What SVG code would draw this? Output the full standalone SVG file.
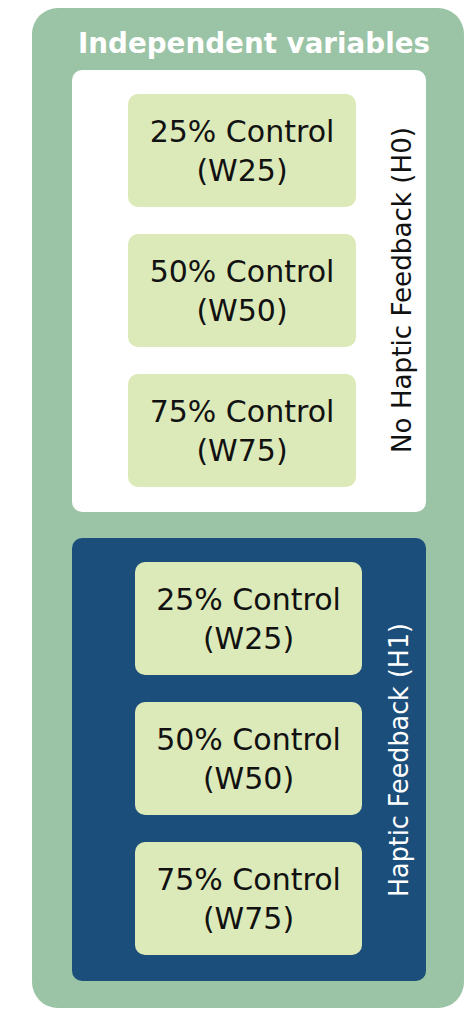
<svg xmlns="http://www.w3.org/2000/svg" width="464" height="1009" viewBox="0 0 464 1009">
  <style>
    .outer { fill: #9ac4a5; }
    .panel-h0 { fill: #ffffff; }
    .panel-h1 { fill: #1b4e7b; }
    .cond { fill: #dce9b8; }
    .title { font-family: "DejaVu Sans", "Liberation Sans", sans-serif; font-weight: bold; font-size: 28px; fill: #ffffff; }
    .label { font-family: "DejaVu Sans", "Liberation Sans", sans-serif; font-size: 30px; fill: #111111; text-anchor: middle; }
    .side { font-family: "DejaVu Sans", "Liberation Sans", sans-serif; font-size: 26px; text-anchor: middle; }
  </style>

  <rect width="464" height="1009" fill="#ffffff"/>

  <!-- outer container -->
  <g id="container">
    <rect class="outer" x="32" y="8" width="432" height="1000" rx="26"/>
    <text class="title" x="78" y="53" textLength="352" lengthAdjust="spacingAndGlyphs">Independent variables</text>
  </g>

  <!-- group without haptic feedback -->
  <g id="group-h0">
    <rect class="panel-h0" x="72" y="70" width="354" height="442" rx="10"/>
    <text class="side" transform="translate(411 290) rotate(-90)" fill="#111111" textLength="326" lengthAdjust="spacingAndGlyphs">No Haptic Feedback (H0)</text>
  </g>
  <g id="h0-w25">
    <rect class="cond" x="128" y="94" width="228" height="113" rx="10"/>
    <text class="label" x="242" y="142">25% Control</text>
    <text class="label" x="242" y="181">(W25)</text>
  </g>
  <g id="h0-w50">
    <rect class="cond" x="128" y="234" width="228" height="113" rx="10"/>
    <text class="label" x="242" y="282">50% Control</text>
    <text class="label" x="242" y="321">(W50)</text>
  </g>
  <g id="h0-w75">
    <rect class="cond" x="128" y="374" width="228" height="113" rx="10"/>
    <text class="label" x="242" y="422">75% Control</text>
    <text class="label" x="242" y="461">(W75)</text>
  </g>

  <!-- group with haptic feedback -->
  <g id="group-h1">
    <rect class="panel-h1" x="72" y="538" width="354" height="443" rx="10"/>
    <text class="side" transform="translate(408 760) rotate(-90)" fill="#ffffff" textLength="274" lengthAdjust="spacingAndGlyphs">Haptic Feedback (H1)</text>
  </g>
  <g id="h1-w25">
    <rect class="cond" x="135" y="562" width="227" height="113" rx="10"/>
    <text class="label" x="248.5" y="610">25% Control</text>
    <text class="label" x="248.5" y="649">(W25)</text>
  </g>
  <g id="h1-w50">
    <rect class="cond" x="135" y="702" width="227" height="113" rx="10"/>
    <text class="label" x="248.5" y="750">50% Control</text>
    <text class="label" x="248.5" y="789">(W50)</text>
  </g>
  <g id="h1-w75">
    <rect class="cond" x="135" y="842" width="227" height="113" rx="10"/>
    <text class="label" x="248.5" y="890">75% Control</text>
    <text class="label" x="248.5" y="929">(W75)</text>
  </g>

  <g id="connectors"/>
</svg>
